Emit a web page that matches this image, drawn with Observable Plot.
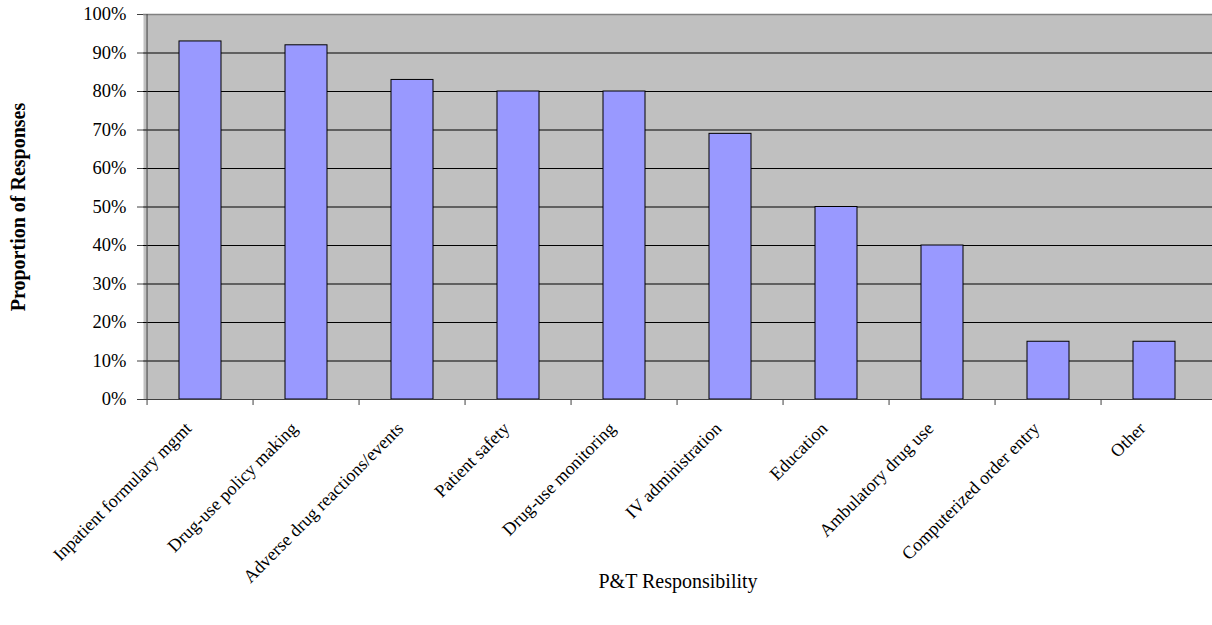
<!DOCTYPE html>
<html>
<head>
<meta charset="utf-8">
<script src="https://cdn.jsdelivr.net/npm/d3@7"></script>
<script src="https://cdn.jsdelivr.net/npm/@observablehq/plot@0.6"></script>
<style>
  html, body { margin: 0; padding: 0; background: #fff; }
  svg { display: block; }
</style>
</head>
<body>
<div id="chart"></div>
<script>
const categories = [
  "Inpatient formulary mgmt",
  "Drug-use policy making",
  "Adverse drug reactions/events",
  "Patient safety",
  "Drug-use monitoring",
  "IV administration",
  "Education",
  "Ambulatory drug use",
  "Computerized order entry",
  "Other"
];
const values = [0.93, 0.92, 0.83, 0.80, 0.80, 0.69, 0.50, 0.40, 0.15, 0.15];
const yTicks = [0, 0.1, 0.2, 0.3, 0.4, 0.5, 0.6, 0.7, 0.8, 0.9, 1.0];
const gridLines = [0.1, 0.2, 0.3, 0.4, 0.5, 0.6, 0.7, 0.8, 0.9];
const xTitle = "P&T Responsibility";
const yTitle = "Proportion of Responses";

const data = categories.map((c, i) => ({category: c, value: values[i]}));

const W = 1212, H = 625, ML = 143, MR = 0, MT = 14, MB = 226;
const step = (W - ML - MR) / categories.length;
const font = "'Liberation Serif', 'Times New Roman', serif";

const chart = Plot.plot({
  width: W,
  height: H,
  marginLeft: ML,
  marginRight: MR,
  marginTop: MT,
  marginBottom: MB,
  style: {fontFamily: font, background: "#fff", color: "#000"},
  x: {domain: categories, paddingInner: 0.6, paddingOuter: 0.3, label: null},
  y: {domain: [0, 1], label: null},
  marks: [
    Plot.frame({fill: "#C0C0C0", stroke: null}),
    Plot.ruleY(gridLines, {stroke: "#000", strokeWidth: 1}),
    Plot.ruleY([1], {stroke: "#808080", strokeWidth: 1.5}),
    Plot.barY(data, {x: "category", y: "value", fill: "#9999FF", stroke: "#000", strokeWidth: 1}),
    Plot.ruleX([categories[0]], {y1: 0, y2: 1, dx: -step / 2, stroke: "#404040"}),
    Plot.ruleY([0], {stroke: "#404040"}),
    Plot.axisY({ticks: yTicks, tickFormat: d3.format(".0%"), tickSize: 6, tickPadding: 11, fontSize: 18.5, label: null, stroke: "#404040"}),
    Plot.axisX({tickSize: 6, dx: -step / 2, text: null, label: null, stroke: "#404040"}),
    Plot.axisX({tickSize: 0, tickRotate: -45, tickPadding: 26, dx: -12, fontSize: 18, label: null}),
    Plot.text([xTitle], {frameAnchor: "bottom", dy: 188, fontSize: 20, fill: "#000"}),
    Plot.text([yTitle], {frameAnchor: "left", textAnchor: "middle", rotate: -90, dx: -125, fontSize: 20, fontWeight: "bold", fill: "#000"})
  ]
});

document.getElementById("chart").appendChild(chart);
</script>
</body>
</html>
